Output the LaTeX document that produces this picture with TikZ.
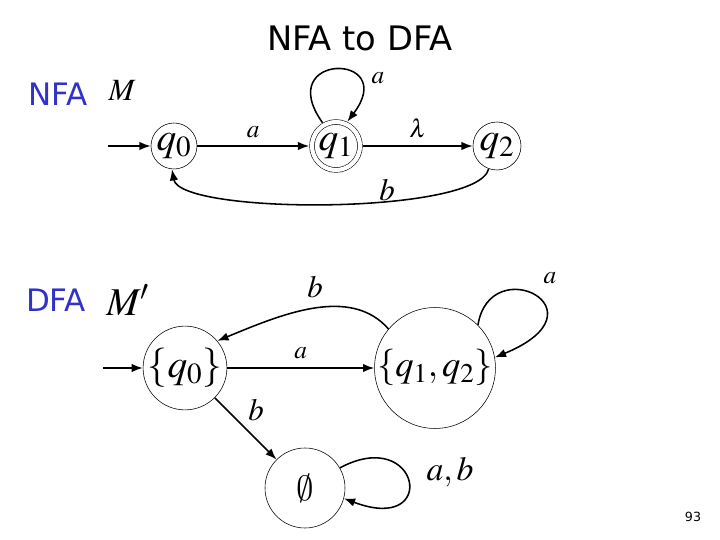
\documentclass[tikz,border=0pt]{standalone}
\usepackage{amsmath}
\usepackage{mathptmx}
\usepackage{fontspec}
\usepackage{tikz}
\usetikzlibrary{arrows.meta}
\newfontfamily\labelfont{DejaVu Sans}
\definecolor{headblue}{RGB}{50,50,200}
\DeclareSymbolFont{cmsymbols}{OMS}{cmsy}{m}{n}
\DeclareMathSymbol{\nullset}{\mathord}{cmsymbols}{"3B}

\begin{document}
\begin{tikzpicture}[
    state/.style={circle,draw,thin,inner sep=0pt,font=\fontsize{28}{32}\selectfont},
    final/.style={state,double,double distance=3pt,outer sep=2pt},
    trans/.style={-{Latex[length=8pt,width=6pt]},line width=1.1pt},
    lab/.style={font=\fontsize{18}{21}\selectfont},
    biglab/.style={font=\fontsize{22}{26}\selectfont}]
  \useasboundingbox (0,0) rectangle (18,13.5);
  % Title
  \node (title) at (9.0,12.55) {\labelfont\fontsize{24}{28}\selectfont NFA to DFA};
  % NFA M
  \node[text=headblue] (nfa) at (1.45,11.15) {\labelfont\fontsize{22}{26}\selectfont NFA};
  \node[font=\fontsize{22}{26}\selectfont] (nfaname) at (3.05,11.25) {$M$};
  \node[state,minimum size=1.15cm] (q0) at (4.35,9.85) {$q_0$};
  \node[final,minimum size=1.2cm] (q1) at (8.4,9.85) {$q_1$};
  \node[state,minimum size=1.2cm] (q2) at (12.425,9.85) {$q_2$};
  \coordinate (nstart) at (2.7,9.85);
  \draw[trans] (nstart) -- (q0);
  \draw[trans] (q0) -- (q1) node[lab,midway,above=2pt]{$a$};
  \draw[trans] (q1) -- (q2) node[lab,midway,above=2pt]{$\lambda$};
  \draw[trans] (q1.120) .. controls (6.8,12.2) and (10.0,12.2) .. (q1.65);
  \node[lab] (loopa) at (9.45,11.55) {$a$};
  \draw[trans] (q2.-110) .. controls (11.95,8.125) and (4.5,8.125) .. (q0.-95);
  \node[biglab] (backb) at (9.675,8.75) {$b$};
  % DFA M'
  \node[text=headblue] (dfa) at (1.4,6.0) {\labelfont\fontsize{22}{26}\selectfont DFA};
  \node[font=\fontsize{28}{32}\selectfont] (dfaname) at (3.2,6.0) {$M'$};
  \node[state,minimum size=2.05cm] (s0) at (4.625,4.3) {$\{q_0\}$};
  \node[state,minimum size=2.8cm,font=\fontsize{26}{30}\selectfont] (s12) at (10.875,4.3) {$\{q_1,q_2\}$};
  \node[state,minimum size=2.0cm,font=\fontsize{24}{28}\selectfont] (sempty) at (7.625,1.3) {$\nullset$};
  \coordinate (dstart) at (2.575,4.3);
  \draw[trans] (dstart) -- (s0);
  \draw[trans] (s0) -- (s12) node[lab,midway,above=3pt]{$a$};
  \draw[trans] (s12.140) .. controls (8.75,6.375) and (7.0,5.625) .. (s0.40);
  \node[biglab] (topb) at (7.875,6.325) {$b$};
  \draw[trans] (s12.45) .. controls (12.25,7.25) and (15.25,5.75) .. (s12.10);
  \node[lab] (selfa) at (13.75,6.55) {$a$};
  \draw[trans] (s0.-45) -- (sempty.135);
  \node[biglab] (downb) at (6.4,3.25) {$b$};
  \draw[trans] (sempty.30) .. controls (10.5,2.875) and (11.0,0.125) .. (sempty.-15);
  \node[font=\fontsize{24}{28}\selectfont] (selfab) at (11.25,1.7) {$a,b$};
  % Page number
  \node (page) at (17.325,0.575) {\labelfont\fontsize{9}{11}\selectfont 93};
\end{tikzpicture}
\end{document}
